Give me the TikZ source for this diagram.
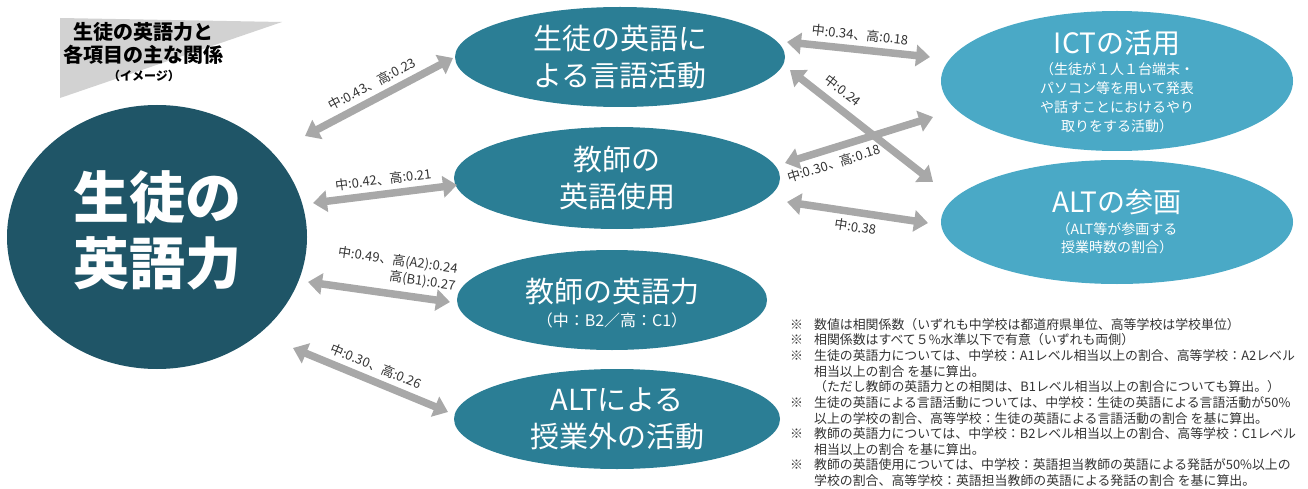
\documentclass[tikz,border=0pt]{standalone}
\usepackage{fontspec}
\setmainfont{Noto Sans CJK JP}
\usetikzlibrary{arrows.meta,shapes.geometric}
\definecolor{dark}{HTML}{1F5567}
\definecolor{mid}{HTML}{2B7E95}
\definecolor{light}{HTML}{4AA9C6}
\definecolor{agray}{HTML}{A8A8A8}
\definecolor{tgray}{HTML}{D2D2D2}
\definecolor{txt}{HTML}{333333}
\tikzset{
  dbl/.style={draw=agray, line width=7.5pt, {Triangle[width=21pt,length=14pt]}-{Triangle[width=21pt,length=14pt]}},
  lab/.style={font=\fontsize{13}{15}\selectfont, text=txt, sloped, inner sep=5pt},
  ell/.style={ellipse, inner sep=0pt, text=white, align=center},
  midtxt/.style={font=\fontsize{29}{37}\selectfont},
}
\begin{document}
\begin{tikzpicture}[x=1pt,y=-1pt]
\useasboundingbox (0,0) rectangle (1308,489);
% title
\fill[tgray] (60,18) -- (282,22) -- (60,98) -- cycle;
\node[font=\bfseries\fontsize{20}{22}\selectfont] (t1) at (143,32) {生徒の英語力と};
\node[font=\bfseries\fontsize{20}{22}\selectfont] (t2) at (143,55) {各項目の主な関係};
\node[font=\bfseries\fontsize{12}{14}\selectfont] (t3) at (144,76) {（イメージ）};
% big
\node[ell, fill=dark, minimum width=300pt, minimum height=264pt] (big) at (157,237) {};
\node[text=white, align=center, font=\bfseries\fontsize{56}{66}\selectfont] (bigtxt) at (157,230) {生徒の\\英語力};
% middle ellipses
\node[ell, fill=mid, minimum width=330pt, minimum height=100pt, midtxt] (e1) at (620,57) {生徒の英語に\\よる言語活動};
\node[ell, fill=mid, minimum width=326pt, minimum height=102pt, midtxt] (e2) at (617,178) {教師の\\英語使用};
\node[ell, fill=mid, minimum width=310pt, minimum height=100pt] (e3) at (612,300) {};
\node[text=white, font=\fontsize{29}{37}\selectfont] (e3a) at (612,292) {教師の英語力};
\node[text=white, font=\fontsize{16}{18}\selectfont] (e3b) at (612,320) {（中：B2／高：C1）};
\node[ell, fill=mid, minimum width=326pt, minimum height=100pt, midtxt] (e4) at (617,419) {ALTによる\\授業外の活動};
% right ellipses
\node[ell, fill=light, minimum width=352pt, minimum height=140pt] (ict) at (1117,81) {};
\node[text=white, align=center, font=\fontsize{14}{19}\selectfont] (icttxt) at (1117,81) {{\fontsize{28}{32}\selectfont ICTの活用}\\[2pt]（生徒が１人１台端末・\\パソコン等を用いて発表\\や話すことにおけるやり\\取りをする活動）};
\node[ell, fill=light, minimum width=352pt, minimum height=124pt] (alt) at (1117,222) {};
\node[text=white, align=center, font=\fontsize{14}{18}\selectfont] (alttxt) at (1117,221) {{\fontsize{28}{32}\selectfont ALTの参画}\\[4pt]（ALT等が参画する\\授業時数の割合）};
% arrow end coordinates
\coordinate (a1s) at (305,136); \coordinate (a1e) at (453,58);
\coordinate (a2s) at (313,203); \coordinate (a2e) at (457,185);
\coordinate (a3s) at (308,282); \coordinate (a3e) at (450,302);
\coordinate (a4s) at (293,348); \coordinate (a4e) at (448,412);
\coordinate (b1s) at (787,42);  \coordinate (b1e) at (930,57);
\coordinate (b2s) at (790,70);  \coordinate (b2e) at (933,182);
\coordinate (b3s) at (785,163); \coordinate (b3e) at (933,117);
\coordinate (b4s) at (787,202); \coordinate (b4e) at (928,223);
% arrows
\draw[dbl] (a1s) -- node[lab, above] {中:0.43、高:0.23} (a1e);
\draw[dbl] (a2s) -- node[lab, above] {中:0.42、高:0.21} (a2e);
\draw[dbl] (a3s) -- node[lab, above, pos=0.6, align=right, inner sep=6pt, font=\fontsize{13}{17}\selectfont] {中:0.49、高(A2):0.24\\高(B1):0.27} (a3e);
\draw[dbl] (a4s) -- node[lab, above] {中:0.30、高:0.26} (a4e);
\draw[dbl] (b1s) -- node[lab, above] {中:0.34、高:0.18} (b1e);
\draw[dbl] (b2s) -- node[lab, above, pos=0.3, inner sep=7pt] {中:0.24} (b2e);
\draw[dbl] (b3s) -- node[lab, below, pos=0.3] {中:0.30、高:0.18} (b3e);
\draw[dbl] (b4s) -- node[lab, below] {中:0.38} (b4e);
% notes
\node[anchor=north west, inner sep=0pt, text=txt, font=\fontsize{12.9}{15.6}\selectfont] (notes) at (790,318) {%
\begin{tabular}{@{}l@{\hspace{11pt}}l@{}}
※ & 数値は相関係数（いずれも中学校は都道府県単位、高等学校は学校単位）\\
※ & 相関係数はすべて５\%水準以下で有意（いずれも両側）\\
※ & 生徒の英語力については、中学校：A1レベル相当以上の割合、高等学校：A2レベル\\
   & 相当以上の割合 を基に算出。\\
   & （ただし教師の英語力との相関は、B1レベル相当以上の割合についても算出。）\\
※ & 生徒の英語による言語活動については、中学校：生徒の英語による言語活動が50\%\\
   & 以上の学校の割合、高等学校：生徒の英語による言語活動の割合 を基に算出。\\
※ & 教師の英語力については、中学校：B2レベル相当以上の割合、高等学校：C1レベル\\
   & 相当以上の割合 を基に算出。\\
※ & 教師の英語使用については、中学校：英語担当教師の英語による発話が50\%以上の\\
   & 学校の割合、高等学校：英語担当教師の英語による発話の割合 を基に算出。
\end{tabular}};
\end{tikzpicture}
\end{document}
